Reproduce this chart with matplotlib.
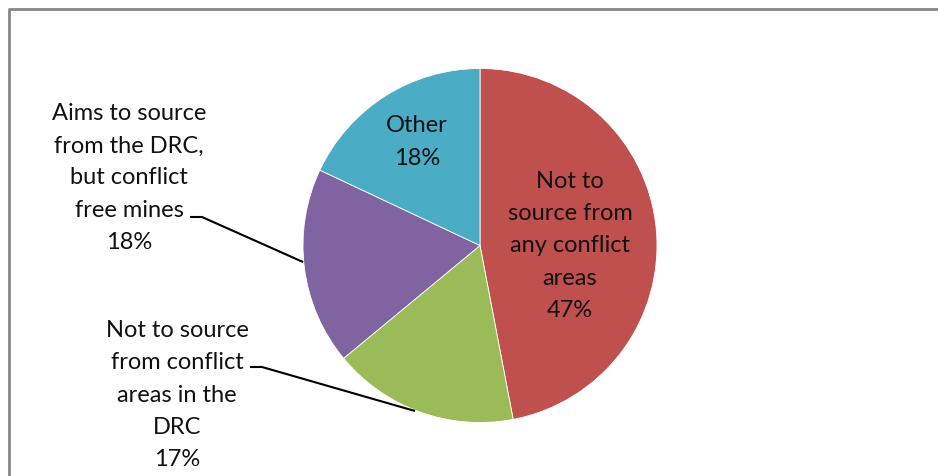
import matplotlib
matplotlib.use("Agg")
import matplotlib.pyplot as plt
from matplotlib.lines import Line2D

# sourcing policy shares, clockwise from 12 o'clock
labels = ["Not to\nsource from\nany conflict\nareas",
          "Not to source\nfrom conflict\nareas in the\nDRC",
          "Aims to source\nfrom the DRC,\nbut conflict\nfree mines",
          "Other"]
shares = [47, 17, 18, 18]
colors = ["#C0504D", "#9BBB59", "#8064A2", "#4BACC6"]

# label centres (pixels) and leader lines for the outside labels
label_pos = [(570, 246), (177, 395), (129, 178), (417, 142)]
leaders = {1: [(250, 367), (262, 367), (415, 411)],
           2: [(190, 217), (202, 217), (303, 262)]}

W, H = 938, 476
fig = plt.figure(figsize=(W / 100, H / 100), dpi=100)
ax = fig.add_axes([0, 0, 1, 1])

# y axis runs downward, so angles are mirrored: start at -90 and go
# counter-clockwise in data space to run clockwise from the top on screen
ax.pie(shares, colors=colors, startangle=-90, counterclock=True,
       center=(480, 245.5), radius=177,
       wedgeprops=dict(linewidth=0.6, edgecolor="white"))
ax.set_xlim(0, W)
ax.set_ylim(H, 0)
ax.set_aspect("auto")
ax.axis("off")

for i, (lab, val) in enumerate(zip(labels, shares)):
    x, y = label_pos[i]
    ax.text(x, y, f"{lab}\n{val}%", ha="center", va="center",
            fontsize=17, family="Lato", linespacing=1.65, color="#111111")

for pts in leaders.values():
    xs, ys = zip(*pts)
    ax.plot(xs, ys, color="black", linewidth=1.5, solid_capstyle="butt")

# chart-area border, running off the right and bottom edges
ax.add_line(Line2D([9, 9, W], [H, 9, 9], color="#868686", linewidth=2.0,
                   clip_on=False))

fig.savefig("out.png", dpi=100)
